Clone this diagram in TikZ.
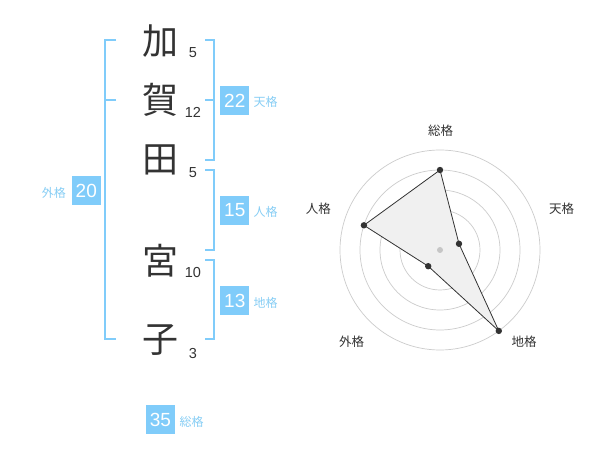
\documentclass[tikz,border=0pt]{standalone}
\usepackage{fontspec}
\setmainfont{Liberation Sans}
\newfontfamily\jpfont{Noto Sans CJK JP}
\definecolor{boxblue}{RGB}{128,204,250}
\definecolor{lblblue}{RGB}{135,206,245}
\definecolor{ink}{RGB}{51,51,51}
\definecolor{ringgray}{RGB}{204,204,204}
\definecolor{polyfill}{RGB}{240,240,240}
\tikzset{
  kanji/.style={font=\jpfont\fontsize{36}{36}\selectfont, text=ink, inner sep=0pt},
  strokes/.style={font=\fontsize{14.5}{14.5}\selectfont, text=ink, inner sep=0pt},
  numbox/.style={fill=boxblue, text=white, minimum width=29pt, minimum height=29pt, inner sep=0pt, font=\fontsize{19}{19}\selectfont},
  lbl/.style={text=lblblue, font=\jpfont\fontsize{12}{12}\selectfont, inner sep=0pt},
  bracket/.style={draw=boxblue, line width=1.8pt},
  ring/.style={draw=ringgray, line width=0.7pt},
  radarlbl/.style={font=\jpfont\fontsize{12.5}{12.5}\selectfont, text=ink, inner sep=0pt},
  polyline/.style={draw=ink, line width=0.8pt, fill=polyfill},
  vdot/.style={fill=ink}
}
\begin{document}
\begin{tikzpicture}[x=1pt,y=-1pt]
\useasboundingbox[fill=white] (0,0) rectangle (600,470);

% name characters
\node[kanji] (k1) at (160,41) {加};
\node[kanji] (k2) at (160,100) {賀};
\node[kanji] (k3) at (160,160) {田};
\node[kanji] (k4) at (160,261) {宮};
\node[kanji] (k5) at (160,340) {子};

\node[strokes] (s1) at (193,52.7) {5};
\node[strokes] (s2) at (193,112.7) {12};
\node[strokes] (s3) at (193,172.7) {5};
\node[strokes] (s4) at (193,272.7) {10};
\node[strokes] (s5) at (193,353.3) {3};

% brackets
\coordinate (lt) at (116,40);
\coordinate (lm) at (116,100);
\coordinate (lb) at (116,339);
\draw[bracket] (lt) -- (105,40) -- (105,339) -- (lb);
\draw[bracket] (lm) -- (105,100);

\coordinate (r1t) at (205,40);
\coordinate (r1m) at (205,100);
\coordinate (r1b) at (205,160);
\draw[bracket] (r1t) -- (214,40) -- (214,160) -- (r1b);
\draw[bracket] (r1m) -- (214,100);

\coordinate (r2t) at (205,170);
\coordinate (r2b) at (205,250);
\draw[bracket] (r2t) -- (214,170) -- (214,250) -- (r2b);

\coordinate (r3t) at (205,260);
\coordinate (r3b) at (205,339);
\draw[bracket] (r3t) -- (214,260) -- (214,339) -- (r3b);

% number boxes and labels
\node[numbox] (ten) at (234.8,100.5) {22};
\node[lbl, anchor=west] (tenl) at (253.5,102) {天格};
\node[numbox] (jin) at (234.8,210.5) {15};
\node[lbl, anchor=west] (jinl) at (253.5,212) {人格};
\node[numbox] (chi) at (234.8,300.5) {13};
\node[lbl, anchor=west] (chil) at (253.5,302.5) {地格};
\node[numbox] (gai) at (86.3,190.5) {20};
\node[lbl, anchor=east] (gail) at (66,192.5) {外格};
\node[numbox] (sou) at (160.5,419.5) {35};
\node[lbl, anchor=west] (soul) at (179.5,422) {総格};

% radar chart
\coordinate (c) at (440,250);
\foreach \r in {20,40,60,80,100} \draw[ring] (c) circle[radius=\r];
\coordinate (pS) at (440,170);
\coordinate (pT) at (459.0,243.8);
\coordinate (pC) at (498.8,330.9);
\coordinate (pG) at (428.2,266.2);
\coordinate (pJ) at (363.9,225.3);
\draw[polyline] (pS) -- (pT) -- (pC) -- (pG) -- (pJ) -- cycle;
\fill[gray!45] (c) circle[radius=3];
\foreach \p in {pS,pT,pC,pG,pJ} \fill[vdot] (\p) circle[radius=3.2];

\node[radarlbl] (lS) at (440.7,130.7) {総格};
\node[radarlbl] (lT) at (561.7,208.3) {天格};
\node[radarlbl] (lC) at (524,341.7) {地格};
\node[radarlbl] (lG) at (351.7,341.7) {外格};
\node[radarlbl] (lJ) at (318.3,208.3) {人格};
\end{tikzpicture}
\end{document}
